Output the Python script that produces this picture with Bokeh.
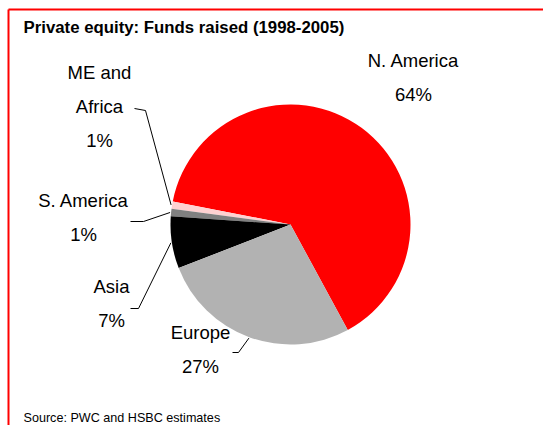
import numpy as np
from bokeh.plotting import figure
from bokeh.models import Range1d, ColumnDataSource
from bokeh.core.properties import value
from bokeh.embed import file_html
from bokeh.resources import INLINE

# ---- data ----
regions = ["N. America", "ME and Africa", "S. America", "Asia", "Europe"]
shares = [64, 1, 1, 7, 27]
label_lines = [["N. America", "64%"], ["ME and", "Africa", "1%"], ["S. America", "1%"],
               ["Asia", "7%"], ["Europe", "27%"]]
title_text = "Private equity: Funds raised (1998-2005)"
source_text = "Source: PWC and HSBC estimates"

# ---- styles / layout ----
colors = ["#FF0000", "#FFD2D2", "#808080", "#000000", "#B2B2B2"]
W, H = 543, 425
FONT = "Liberation Sans"
start_deg = -61.5
cx, cy, R = 290, 201, 120  # figure coords (y up)

# label anchor (center x, first baseline y) in figure coords, line spacing
label_pos = [(413, 365), (99, 353), (83, 225), (111, 139), (200, 93)]
line_gap = 34
# leader line elbows: (text-side start, elbow) in figure coords
leaders = [None, [(134, 317), (145, 315)], [(130, 204), (143, 204)],
           [(130, 117), (138, 117)], [(232, 73), (238, 73)]]

p = figure(width=W, height=H, output_backend="svg", toolbar_location=None,
           x_range=Range1d(0, W), y_range=Range1d(0, H), min_border=0)
p.axis.visible = False
p.grid.visible = False
p.outline_line_color = None
p.background_fill_color = "white"

fr = np.array(shares, dtype=float) / sum(shares)
ends = np.deg2rad(start_deg) + 2 * np.pi * np.cumsum(fr)
starts = ends - 2 * np.pi * fr
src = ColumnDataSource(dict(region=regions, start=starts, end=ends, color=colors))
p.wedge(x=cx, y=cy, radius=R, start_angle="start", end_angle="end",
        fill_color="color", line_color=None, source=src)

# leader lines
for i, ld in enumerate(leaders):
    if ld is None:
        continue
    mid = (starts[i] + ends[i]) / 2
    ex, ey = cx + (R + 1) * np.cos(mid), cy + (R + 1) * np.sin(mid)
    xs = [ld[0][0], ld[1][0], ex]
    ys = [ld[0][1], ld[1][1], ey]
    p.line(xs, ys, line_color="black", line_width=1)

# data labels
for (lx, ly), lines in zip(label_pos, label_lines):
    for j, t in enumerate(lines):
        p.text(x=[lx], y=[ly - j * line_gap], text=[t], text_align="center",
               text_baseline="alphabetic", text_font=value(FONT),
               text_font_size="18.5px", text_color="black")

# title and source
p.text(x=[23], y=[398.5], text=[title_text], text_align="left", text_baseline="alphabetic",
       text_font=value(FONT), text_font_style="bold", text_font_size="16.8px",
       text_color="black")
p.text(x=[23], y=[7.5], text=[source_text], text_align="left", text_baseline="alphabetic",
       text_font=value(FONT), text_font_size="12.6px", text_color="black")

# red frame (top and left)
p.line([8, W], [416, 416], line_color="#FF0000", line_width=2)
p.line([8, 8], [0, 416], line_color="#FF0000", line_width=2)

open("out.html", "w").write(file_html(p, INLINE))
